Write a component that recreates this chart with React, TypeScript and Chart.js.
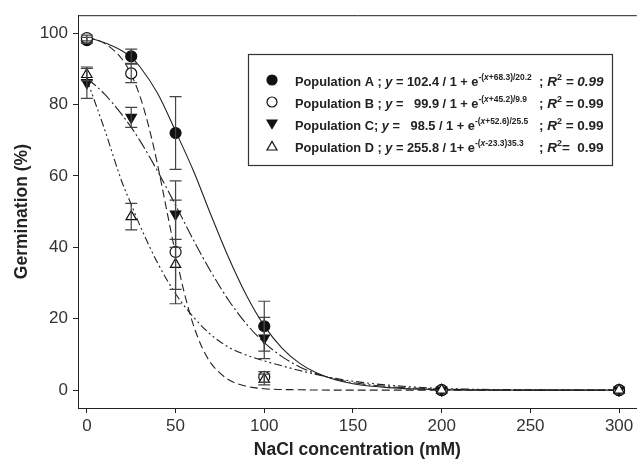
import { useEffect, useRef } from 'react';
import { Chart, registerables } from 'chart.js';

Chart.register(...registerables);

const FONT = '"Liberation Sans", Arial, Helvetica, sans-serif';

const xTicks = [0, 50, 100, 150, 200, 250, 300];
const yTicks = [0, 20, 40, 60, 80, 100];

const concentrations = [0, 25, 50, 100, 200, 300];
const popA = [98.0, 93.5, 72.0, 17.9, 0, 0];
const errA = [0.8, 2.0, 10.2, 7.0, 0, 0];
const popB = [98.6, 88.7, 38.7, 3.7, 0, 0];
const errB = [0.8, 2.6, 14.5, 1.5, 0, 0];
const popC = [86.1, 76.4, 49.3, 14.6, 0, 0];
const errC = [4.4, 2.8, 9.3, 5.8, 0, 0];
const popD = [88.4, 48.6, 35.2, 3.0, 0, 0];
const errD = [1.7, 3.7, 7.0, 1.5, 0, 0];

const curveX = [0, 10, 20, 25, 30, 40, 50, 60, 70, 80, 90, 100, 110, 120, 130, 140, 150, 170, 200, 250, 300];
const fitA = [98.8, 97.3, 95.0, 93.2, 90.5, 83.0, 72.5, 61.5, 49.0, 37.0, 26.5, 18.0, 11.8, 7.5, 4.7, 2.9, 1.8, 0.7, 0.15, 0, 0];
const fitC = [87.4, 82.9, 77.0, 73.6, 69.8, 61.2, 51.8, 42.1, 33.1, 25.1, 18.5, 13.3, 9.4, 6.5, 4.5, 3.1, 2.1, 1.0, 0.3, 0, 0];
const fitD = [87.0, 73.0, 58.0, 52.0, 46.0, 35.5, 27.0, 20.5, 15.5, 12.0, 9.8, 8.2, 6.8, 5.5, 4.3, 3.3, 2.5, 1.4, 0.5, 0.1, 0];
const curveXB = [0, 10, 20, 25, 30, 35, 40, 45, 50, 55, 60, 65, 70, 80, 90, 100, 120, 150, 200, 250, 300];
const fitB = [98.9, 97.1, 92.6, 88.4, 82.2, 73.6, 62.8, 50.4, 38.1, 27.1, 18.3, 11.9, 7.5, 2.9, 1.1, 0.4, 0.1, 0, 0, 0, 0];

const legendNames = ['Population A ; ', 'Population B ; ', 'Population C; ', 'Population D ; '];
const legendCoef = [' = 102.4 / 1 + e', ' =   99.9 / 1 + e', ' =   98.5 / 1 + e', ' = 255.8 / 1+ e'];
const legendExpPost = ['+68.3)/20.2', '+45.2)/9.9', '+52.6)/25.5', '-23.3)35.3'];
const legendR2 = [' = 0.99', ' = 0.99', ' = 0.99', '=  0.99'];
const legendR2Italic = [true, false, false, false];

const xTitle = 'NaCl concentration (mM)';
const yTitle = 'Germination (%)';

type Run = { t: string; i?: boolean; sup?: boolean };

function drawRuns(ctx: CanvasRenderingContext2D, x: number, y: number, runs: Run[], size: number) {
  let cx = x;
  for (const r of runs) {
    const s = r.sup ? size * 0.66 : size;
    ctx.font = `${r.i ? 'italic ' : ''}bold ${s}px ${FONT}`;
    ctx.fillText(r.t, cx, r.sup ? y - 6.5 : y);
    cx += ctx.measureText(r.t).width;
  }
  return cx;
}

function drawMarker(ctx: CanvasRenderingContext2D, kind: number, x: number, y: number, r: number) {
  ctx.beginPath();
  if (kind === 0 || kind === 1) {
    ctx.arc(x, y, r, 0, Math.PI * 2);
  } else if (kind === 2) {
    ctx.moveTo(x - r, y - r * 0.8);
    ctx.lineTo(x + r, y - r * 0.8);
    ctx.lineTo(x, y + r * 0.9);
    ctx.closePath();
  } else {
    ctx.moveTo(x - r, y + r * 0.8);
    ctx.lineTo(x + r, y + r * 0.8);
    ctx.lineTo(x, y - r * 0.9);
    ctx.closePath();
  }
  ctx.lineWidth = 1.2;
  ctx.strokeStyle = '#111';
  ctx.fillStyle = kind === 0 || kind === 2 ? '#111' : '#fff';
  ctx.fill();
  ctx.stroke();
}

const decorPlugin = {
  id: 'decor',
  afterDatasetsDraw(chart: any) {
    const ctx: CanvasRenderingContext2D = chart.ctx;
    const xs = chart.scales.x;
    const ys = chart.scales.y;
    const sets: [number[], number[]][] = [
      [popA, errA],
      [popB, errB],
      [popC, errC],
      [popD, errD],
    ];
    ctx.save();
    ctx.strokeStyle = '#444';
    ctx.lineWidth = 1.2;
    for (const [vals, errs] of sets) {
      vals.forEach((v, i) => {
        if (!errs[i]) return;
        const px = xs.getPixelForValue(concentrations[i]);
        const top = ys.getPixelForValue(v + errs[i]);
        const bot = ys.getPixelForValue(v - errs[i]);
        ctx.beginPath();
        ctx.moveTo(px, top);
        ctx.lineTo(px, bot);
        ctx.moveTo(px - 6, top);
        ctx.lineTo(px + 6, top);
        ctx.moveTo(px - 6, bot);
        ctx.lineTo(px + 6, bot);
        ctx.stroke();
      });
    }
    ctx.restore();
  },
  afterDraw(chart: any) {
    const ctx: CanvasRenderingContext2D = chart.ctx;
    const a = chart.chartArea;
    ctx.save();
    ctx.strokeStyle = '#222';
    ctx.lineWidth = 1;
    ctx.beginPath();
    ctx.moveTo(a.left, a.top + 0.5);
    ctx.lineTo(a.right, a.top + 0.5);
    ctx.stroke();

    ctx.fillStyle = '#222';
    ctx.font = `bold 17.5px ${FONT}`;
    ctx.textAlign = 'center';
    ctx.textBaseline = 'middle';
    ctx.fillText(xTitle, (a.left + a.right) / 2, 450);
    ctx.save();
    ctx.translate(22, (a.top + a.bottom) / 2);
    ctx.rotate(-Math.PI / 2);
    ctx.fillText(yTitle, 0, 0);
    ctx.restore();

    ctx.fillStyle = '#fff';
    ctx.fillRect(248, 54, 364, 111);
    ctx.strokeStyle = '#333';
    ctx.lineWidth = 1.2;
    ctx.strokeRect(248.5, 54.5, 364, 111);

    const rowY = [81, 103, 125, 147];
    ctx.textAlign = 'left';
    ctx.textBaseline = 'alphabetic';
    for (let k = 0; k < 4; k++) {
      drawMarker(ctx, k, 272, rowY[k] - 1, 5);
      ctx.fillStyle = '#222';
      const base = rowY[k] + 5;
      drawRuns(ctx, 295, base, [
        { t: legendNames[k] },
        { t: 'y', i: true },
        { t: legendCoef[k] },
        { t: '-(', sup: true },
        { t: 'x', i: true, sup: true },
        { t: legendExpPost[k], sup: true },
      ], 12.8);
      drawRuns(ctx, 539, base, [
        { t: '; ' },
        { t: 'R', i: true },
        { t: '2', sup: true },
        { t: legendR2[k], i: legendR2Italic[k] },
      ], 13.5);
    }
    ctx.restore();
  },
};

function pts(xv: number[], yv: number[]) {
  return xv.map((x, i) => ({ x, y: yv[i] }));
}

export default function App() {
  const ref = useRef<HTMLCanvasElement | null>(null);
  useEffect(() => {
    if (!ref.current) return;
    const curveStyle = {
      showLine: true,
      pointRadius: 0,
      borderColor: '#222',
      borderWidth: 1.1,
      cubicInterpolationMode: 'monotone' as const,
      fill: false,
      order: 10,
    };
    const chart = new Chart(ref.current, {
      type: 'scatter',
      data: {
        datasets: [
          { ...curveStyle, data: pts(curveX, fitA), borderDash: [] },
          { ...curveStyle, data: pts(curveXB, fitB), borderDash: [8, 4] },
          { ...curveStyle, data: pts(curveX, fitC), borderDash: [12, 3, 2, 3] },
          { ...curveStyle, data: pts(curveX, fitD), borderDash: [8, 3, 2, 3, 2, 3] },
          {
            data: pts(concentrations, popA), showLine: false, pointStyle: 'circle', pointRadius: 5.5,
            backgroundColor: '#111', borderColor: '#111', pointBorderWidth: 1.2, order: 4,
          },
          {
            data: pts(concentrations, popB), showLine: false, pointStyle: 'circle', pointRadius: 5.5,
            backgroundColor: '#fff', borderColor: '#111', pointBorderWidth: 1.2, order: 3,
          },
          {
            data: pts(concentrations, popC), showLine: false, pointStyle: 'triangle', pointRotation: 180, pointRadius: 6,
            backgroundColor: '#111', borderColor: '#111', pointBorderWidth: 1.2, order: 2,
          },
          {
            data: pts(concentrations, popD), showLine: false, pointStyle: 'triangle', pointRadius: 6,
            backgroundColor: '#fff', borderColor: '#111', pointBorderWidth: 1.2, order: 1,
          },
        ],
      },
      options: {
        animation: false,
        responsive: false,
        devicePixelRatio: 1,
        layout: { padding: { top: 12, left: 0, right: 0, bottom: 0 } },
        plugins: { legend: { display: false }, tooltip: { enabled: false } },
        scales: {
          x: {
            type: 'linear',
            min: -5,
            max: 310,
            afterFit: (s: any) => { s.height = 59; },
            afterBuildTicks: (s: any) => { s.ticks = xTicks.map((v) => ({ value: v })); },
            grid: { display: true, drawOnChartArea: false, drawTicks: true, tickLength: 5, color: '#222', lineWidth: 1 },
            border: { display: true, color: '#222', width: 1 },
            ticks: { font: { family: FONT, size: 17 }, color: '#333', padding: 3, maxRotation: 0, autoSkip: false },
          },
          y: {
            type: 'linear',
            min: -5,
            max: 105,
            afterFit: (s: any) => { s.width = 78; },
            afterBuildTicks: (s: any) => { s.ticks = yTicks.map((v) => ({ value: v })); },
            grid: { display: true, drawOnChartArea: false, drawTicks: true, tickLength: 5, color: '#222', lineWidth: 1 },
            border: { display: true, color: '#222', width: 1 },
            ticks: { font: { family: FONT, size: 17 }, color: '#333', padding: 5, autoSkip: false },
          },
        },
      },
      plugins: [decorPlugin],
    } as any);
    return () => chart.destroy();
  }, []);
  return (
    <div style={{ position: 'fixed', left: 0, top: 0, width: 644, height: 467, background: '#fff' }}>
      <canvas ref={ref} width={644} height={467} style={{ display: 'block' }} />
    </div>
  );
}
